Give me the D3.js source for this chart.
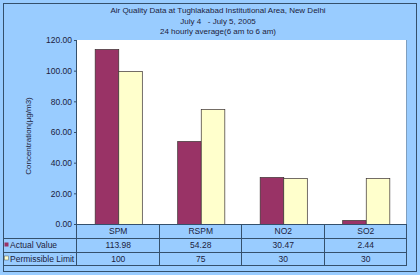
<!DOCTYPE html>
<html lang="en">
<head>
<meta charset="UTF-8"/>
<title>Air Quality Data</title>
<script src="https://d3js.org/d3.v7.min.js"></script>
<style>
  body { margin: 0; background-color: #99ccff; }
  svg { display: block; }
  text { font-family: "Liberation Sans", Arial, sans-serif; fill: #1c1c3c; }
</style>
</head>
<body>
<script>
// chart data
var categories = ["SPM", "RSPM", "NO2", "SO2"];
var seriesNames = ["Actual Value", "Permissible Limit"];
var actualValues = [113.98, 54.28, 30.47, 2.44];
var limitValues = [100, 75, 30, 30];
var actualLabels = ["113.98", "54.28", "30.47", "2.44"];
var limitLabels = ["100", "75", "30", "30"];
var yTicks = [0, 20, 40, 60, 80, 100, 120];
var titleLines = ["Air Quality Data at Tughlakabad Institutional Area, New Delhi",
                  "July 4   - July 5, 2005",
                  "24 hourly average(6 am to 6 am)"];

var w = 420;
var h = 275;
// plot edges (window.top is reserved, so use other names)
var pLeft = 77, pRight = 407, pTop = 40, pBottom = 224;
var colors = ["#993366", "#ffffcc"];
var lineCol = "#34506c";

var svg = d3.select("body")
            .append("svg")
            .attr("width", w)
            .attr("height", h);

// frame
svg.append("rect")
   .attr("x", 3.5).attr("y", 3.5)
   .attr("width", 413).attr("height", 268)
   .attr("fill", "#99ccff")
   .attr("stroke", lineCol);

// title
svg.selectAll("text.title")
   .data(titleLines)
   .enter()
   .append("text")
   .attr("class", "title")
   .attr("x", 218)
   .attr("y", function(d, i){ return 13 + i * 10.5; })
   .attr("text-anchor", "middle")
   .style("font-size", "8px")
   .style("white-space", "pre")
   .text(function(d){ return d; });

var x0 = d3.scaleBand()
           .domain(categories)
           .range([pLeft, pRight]);

var gap = x0.bandwidth() * 1.5 / 3.5 / 2;
var x1 = d3.scaleBand()
           .domain(seriesNames)
           .range([gap, x0.bandwidth() - gap]);

var y = d3.scaleLinear()
          .domain([0, 120])
          .range([pBottom, pTop]);

// plot area
svg.append("rect")
   .attr("x", pLeft).attr("y", pTop)
   .attr("width", pRight - pLeft).attr("height", pBottom - pTop)
   .attr("fill", "white");
svg.append("line")
   .attr("x1", pRight - 0.5).attr("x2", pRight - 0.5)
   .attr("y1", pTop).attr("y2", pBottom)
   .attr("stroke", "#7f9fbf");

// y axis
var yAxis = d3.axisLeft(y)
              .tickValues(yTicks)
              .tickSize(3)
              .tickFormat(d3.format(".2f"));
var ga = svg.append("g")
   .attr("transform", "translate(" + pLeft + ",0)")
   .call(yAxis);
ga.select(".domain").attr("stroke", lineCol).attr("d", "M-0.5," + pTop + "V" + pBottom);
ga.selectAll(".tick line").attr("stroke", lineCol);
ga.selectAll(".tick text")
  .attr("x", -5)
  .style("font-size", "8.5px")
  .style("font-family", "'Liberation Sans', Arial, sans-serif")
  .attr("fill", "#1c1c3c");

svg.append("text")
   .attr("transform", "translate(31,136) rotate(-90)")
   .attr("text-anchor", "middle")
   .style("font-size", "8px")
   .text("Concentration(\u00b5g/m3)");

// bars
var table = categories.map(function(c, i){
    return {cat: c, vals: [actualValues[i], limitValues[i]]};
});

var groups = svg.selectAll("g.grp")
   .data(table)
   .enter()
   .append("g")
   .attr("class", "grp")
   .attr("transform", function(d){ return "translate(" + x0(d.cat) + ",0)"; });

groups.selectAll("rect")
   .data(function(d){ return d.vals.map(function(v, j){ return {s: seriesNames[j], v: v, j: j}; }); })
   .enter()
   .append("rect")
   .attr("x", function(d){ return x1(d.s) + 0.5; })
   .attr("y", function(d){ return Math.round(y(d.v)) + 0.5; })
   .attr("width", x1.bandwidth())
   .attr("height", function(d){ return pBottom - Math.round(y(d.v)); })
   .attr("fill", function(d){ return colors[d.j]; })
   .attr("stroke", "#3a3030")
   .attr("stroke-width", 0.7);

// data table
var rowY = [pBottom, 238, 252, 265];
var tableLeft = 3;

svg.append("line")
   .attr("x1", pLeft).attr("x2", pRight)
   .attr("y1", pBottom + 0.5).attr("y2", pBottom + 0.5)
   .attr("stroke", lineCol);
rowY.slice(1).forEach(function(ry){
    svg.append("line")
       .attr("x1", tableLeft).attr("x2", pRight)
       .attr("y1", ry + 0.5).attr("y2", ry + 0.5)
       .attr("stroke", lineCol);
});
var vx = categories.map(function(c){ return x0(c); }).concat([pRight]);
vx.forEach(function(vv){
    svg.append("line")
       .attr("x1", Math.round(vv) - 0.5).attr("x2", Math.round(vv) - 0.5)
       .attr("y1", pBottom).attr("y2", rowY[3])
       .attr("stroke", lineCol);
});

var cx = function(c){ return x0(c) + x0.bandwidth() / 2; };

svg.selectAll("text.cat")
   .data(categories)
   .enter()
   .append("text")
   .attr("class", "cat")
   .attr("x", cx)
   .attr("y", 234)
   .attr("text-anchor", "middle")
   .style("font-size", "8.5px")
   .text(function(d){ return d; });

[actualLabels, limitLabels].forEach(function(labels, r){
    svg.selectAll("text.row" + r)
       .data(labels)
       .enter()
       .append("text")
       .attr("class", "row" + r)
       .attr("x", function(d, i){ return cx(categories[i]); })
       .attr("y", 248 + r * 13.5)
       .attr("text-anchor", "middle")
       .style("font-size", "8.5px")
       .text(function(d){ return d; });
});

// legend keys in table
seriesNames.forEach(function(s, r){
    svg.append("rect")
       .attr("x", 4.5).attr("y", 242.5 + r * 13.5)
       .attr("width", 4).attr("height", 4)
       .attr("fill", colors[r])
       .attr("stroke", r == 1 ? "#555" : "none")
       .attr("stroke-width", 0.5);
    svg.append("text")
       .attr("x", 10)
       .attr("y", 248 + r * 13.5)
       .style("font-size", "8.5px")
       .text(s);
});
</script>
</body>
</html>
